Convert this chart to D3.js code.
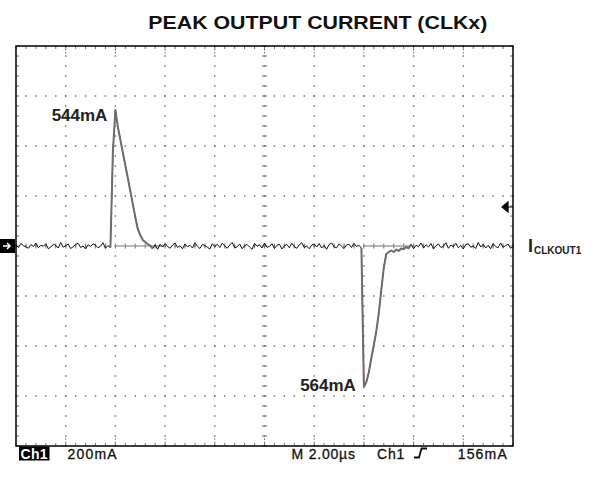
<!DOCTYPE html>
<html><head><meta charset="utf-8">
<script src="https://cdn.jsdelivr.net/npm/d3@7"></script>
<style>html,body{margin:0;padding:0;background:#fff}svg{display:block}</style>
</head><body>
<script>
// ---- data ----
const title = "PEAK OUTPUT CURRENT (CLKx)";
const sampleStepUs = 0.1;           // scope sample spacing (µs)
// Ch1 current in mA, one sample per 0.1 µs over 20 µs (10 div × 2 µs)
const currentMA = [
 4,-6,10,1,-3,-9,6,-2,12,-7,
 3,-1,9,-11,-4,7,2,-8,14,-5,
 1,8,-10,-3,6,11,-6,0,-12,5,
 -2,9,3,-7,-1,13,-9,2,
 -6,380,544,476,425,373,323,272,220,168,116,68,44,24,16,8,2,
 -10,5,-13,7,-4,
 10,-2,-9,4,12,-6,1,-11,8,-3,
 3,-8,13,-1,-10,6,2,-5,-12,9,
 -2,7,-6,11,0,-9,4,14,-7,-3,
 8,-11,2,6,-4,-13,10,-1,5,-8,
 12,-5,-2,9,-10,3,7,-12,1,6,
 -7,11,-3,-9,5,13,-6,0,-11,4,
 8,-4,10,-8,2,-13,6,12,-3,-7,
 9,-1,-10,4,7,-6,11,-2,3,
 -8,-564,-544,-504,-448,-396,-340,-268,-176,-88,-32,-24,-18,-24,-14,-20,-10,-13,-4,-9,
 7,-11,3,-2,12,-8,5,-4,10,-12,1,
 8,-6,-1,13,-9,4,-3,11,-7,2,
 -12,6,9,-5,0,-10,14,-4,7,-8,
 3,-11,10,-2,-7,12,-5,1,8,-9,-2
];
const pulseRanges = [[3.8, 5.5], [13.9, 15.9]];   // µs, drawn as the grey trace
const grayBaseRanges = [[4, 6], [14, 16]];         // µs
const peakLabels = [{t: 4.0, v: 544, text: "544mA"}, {t: 14.0, v: -564, text: "564mA"}];
const timeDomain = [0, 20];        // µs
const currentDomain = [-800, 800]; // mA
const voltsPerDiv = 200;  // mA / div
const timePerDiv = 2;     // µs / div
const triggerLevel = 156; // mA
const statusLeft = ["Ch1", "200mA"];
const statusRight = ["M 2.00µs", "Ch1", "156mA"];
const traceLabel = {main: "I", sub: "CLKOUT1"};

// ---- layout ----
const W = 595, H = 487;
const svg = d3.select("body").append("svg").attr("width", W).attr("height", H);
const L = 16, R = 513, T = 46, B = 446;
const x = d3.scaleLinear().domain(timeDomain).range([L, R]);
const y = d3.scaleLinear().domain(currentDomain).range([B, T]);
const trace = currentMA.map((v, i) => ({t: i * sampleStepUs, v}));

// title
svg.append("text").attr("x", 148.3).attr("y", 28.5)
  .attr("font-family", "Liberation Sans, Arial, sans-serif").attr("font-weight", "bold")
  .attr("font-size", 18).attr("textLength", 339).attr("lengthAdjust", "spacingAndGlyphs")
  .attr("fill", "#111").text(title);

const g = svg.append("g");
const dot = "#777";
const minorT = d3.range(timeDomain[0], timeDomain[1] + 0.001, timePerDiv / 5);
const minorV = d3.range(currentDomain[0], currentDomain[1] + 0.001, voltsPerDiv / 5);
const majorT = d3.range(timeDomain[0] + timePerDiv, timeDomain[1] - 0.001, timePerDiv);
const majorV = d3.range(currentDomain[0] + voltsPerDiv, currentDomain[1] - 0.001, voltsPerDiv);

// dotted grid: vertical lines
majorT.forEach(t => {
  minorV.forEach(v => g.append("rect").attr("x", x(t) - 0.75).attr("y", y(v) - 0.75)
    .attr("width", 1.5).attr("height", 1.5).attr("fill", dot));
});
// horizontal lines
majorV.forEach(v => {
  minorT.forEach(t => g.append("rect").attr("x", x(t) - 0.75).attr("y", y(v) - 0.75)
    .attr("width", 1.5).attr("height", 1.5).attr("fill", dot));
});
// center axes ticks
const tc = x((timeDomain[0] + timeDomain[1]) / 2), vc = y(0);
minorV.forEach(v => g.append("line").attr("x1", tc - 2.5).attr("x2", tc + 2.5)
  .attr("y1", y(v)).attr("y2", y(v)).attr("stroke", dot).attr("stroke-width", 1));
minorT.forEach(t => g.append("line").attr("x1", x(t)).attr("x2", x(t))
  .attr("y1", vc - 2.5).attr("y2", vc + 2.5).attr("stroke", dot).attr("stroke-width", 1));
// frame edge ticks
minorT.forEach(t => {
  g.append("line").attr("x1", x(t)).attr("x2", x(t)).attr("y1", T).attr("y2", T + 3).attr("stroke", dot);
  g.append("line").attr("x1", x(t)).attr("x2", x(t)).attr("y1", B).attr("y2", B - 3).attr("stroke", dot);
});
majorT.forEach(t => {
  g.append("line").attr("x1", x(t)).attr("x2", x(t)).attr("y1", T).attr("y2", T + 8).attr("stroke", dot).attr("stroke-dasharray", "1.5,1.5");
  g.append("line").attr("x1", x(t)).attr("x2", x(t)).attr("y1", B).attr("y2", B - 8).attr("stroke", dot).attr("stroke-dasharray", "1.5,1.5");
});
minorV.forEach(v => {
  g.append("line").attr("x1", L).attr("x2", L + 3).attr("y1", y(v)).attr("y2", y(v)).attr("stroke", dot);
  g.append("line").attr("x1", R).attr("x2", R - 3).attr("y1", y(v)).attr("y2", y(v)).attr("stroke", dot);
});

// grey baseline segments
grayBaseRanges.forEach(([a, b]) => g.append("line").attr("x1", x(a)).attr("x2", x(b))
  .attr("y1", vc).attr("y2", vc).attr("stroke", "#a0a0a0").attr("stroke-width", 1.5));

// frame
g.append("rect").attr("x", L).attr("y", T).attr("width", R - L).attr("height", B - T)
  .attr("fill", "none").attr("stroke", "#000").attr("stroke-width", 1.5);

// trace
const line = d3.line().x(d => x(d.t)).y(d => y(d.v));
g.append("path").attr("d", line(trace)).attr("fill", "none").attr("stroke", "#111").attr("stroke-width", 1);
pulseRanges.forEach(([a, b]) => {
  const seg = trace.filter(d => d.t >= a - 1e-9 && d.t <= b + 1e-9);
  g.append("path").attr("d", line(seg)).attr("fill", "none").attr("stroke", "#6e6e6e")
    .attr("stroke-width", 2).attr("stroke-linejoin", "round");
});

// peak labels
peakLabels.forEach(p => svg.append("text").attr("x", x(p.t) - 8).attr("y", p.v > 0 ? y(p.v) + 11 : y(p.v) + 4)
  .attr("text-anchor", "end").attr("font-family", "Liberation Sans, Arial, sans-serif")
  .attr("font-weight", "bold").attr("font-size", 17).attr("fill", "#222").text(p.text));

// Ch1 ground marker
svg.append("rect").attr("x", 0).attr("y", vc - 7).attr("width", 15).attr("height", 14).attr("fill", "#000");
svg.append("path").attr("d", `M3,${vc} L10,${vc} M7,${vc - 3} L10,${vc} L7,${vc + 3}`)
  .attr("stroke", "#fff").attr("stroke-width", 1.5).attr("fill", "none");

// trigger marker
const ty = y(triggerLevel);
svg.append("path").attr("d", `M502,${ty} L508,${ty - 5} L508,${ty + 5} Z M508,${ty} L${R},${ty}`)
  .attr("fill", "#000").attr("stroke", "#000").attr("stroke-width", 1.2);

// trace label
const tl = svg.append("text").attr("x", 528).attr("y", 252)
  .attr("font-family", "Liberation Sans, Arial, sans-serif").attr("font-weight", "bold").attr("fill", "#222");
tl.append("tspan").attr("font-size", 18).text(traceLabel.main);
tl.append("tspan").attr("font-size", 10).attr("dy", 2).attr("dx", 1).text(traceLabel.sub);

// status line
const sf = "Liberation Sans, Arial, sans-serif";
svg.append("rect").attr("x", 19).attr("y", 446.5).attr("width", 30.5).attr("height", 14).attr("fill", "#000");
svg.append("text").attr("x", 20.5).attr("y", 458.5).attr("font-family", sf).attr("font-size", 14)
  .attr("font-weight", "bold").attr("letter-spacing", 0.3).attr("fill", "#fff").text(statusLeft[0]);
svg.append("text").attr("x", 67.5).attr("y", 458.5).attr("font-family", sf).attr("font-size", 14)
  .attr("letter-spacing", 1.2).attr("stroke", "#111").attr("stroke-width", 0.3).attr("fill", "#111").text(statusLeft[1]);
svg.append("text").attr("x", 291.5).attr("y", 458.5).attr("font-family", sf).attr("font-size", 14)
  .attr("letter-spacing", 0.8).attr("stroke", "#111").attr("stroke-width", 0.3).attr("fill", "#111").text(statusRight[0]);
svg.append("text").attr("x", 377).attr("y", 458.5).attr("font-family", sf).attr("font-size", 14)
  .attr("letter-spacing", 0.8).attr("stroke", "#111").attr("stroke-width", 0.3).attr("fill", "#111").text(statusRight[1]);
svg.append("path").attr("d", "M414,457.5 L419,457.5 L421.5,448.5 L427,448.5")
  .attr("fill", "none").attr("stroke", "#111").attr("stroke-width", 1.8);
svg.append("text").attr("x", 508).attr("y", 458.5).attr("text-anchor", "end").attr("font-family", sf).attr("font-size", 14)
  .attr("letter-spacing", 1.2).attr("stroke", "#111").attr("stroke-width", 0.3).attr("fill", "#111").text(statusRight[2]);
</script>
</body></html>
